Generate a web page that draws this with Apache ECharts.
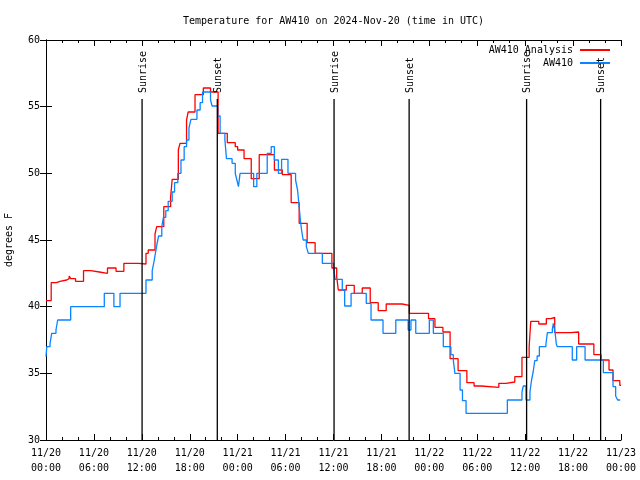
<!DOCTYPE html>
<html>
<head>
<meta charset="utf-8">
<script src="https://cdn.jsdelivr.net/npm/echarts@6/dist/echarts.min.js"></script>
<style>html,body{margin:0;padding:0;background:#fff}#c{width:640px;height:480px}</style>
</head>
<body>
<div id="c"></div>
<script>
// hours since 2024-11-20 00:00 UTC
var analysisHours = [0,0.65,1.3,1.75,2.59,2.9,3.1,3.7,4.7,5.6,6.68,7.7,8.77,9.75,11.6,12.52,12.8,13.65,13.86,14.75,15.6,15.8,16.57,16.78,17.6,17.8,18.66,19.7,20.6,21.55,22.7,23.7,24.0,24.8,25.7,26.7,28.6,29.6,30.7,31.7,32.7,33.7,35.8,36.4,36.6,37.6,38.6,39.6,40.6,41.6,42.6,44.6,45.5,47.9,48.7,49.7,50.6,51.6,52.7,53.6,54.5,56.7,57.6,58.7,59.6,60.5,60.7,61.7,62.65,63.2,63.7,65.7,66.7,68.6,69.5,70.5,71.0,71.85,72];
var analysisTemps = [40.45,41.8,41.9,42.0,42.1,42.3,42.1,41.9,42.7,42.6,42.5,42.9,42.65,43.25,43.2,44.0,44.25,45.45,46.0,47.5,48.2,49.55,51.75,52.25,54.0,54.6,55.9,56.4,56.1,53.0,52.3,52.0,51.75,51.1,49.6,51.4,50.25,49.9,47.8,46.25,44.8,44.0,42.9,42.25,41.25,41.6,41.0,41.4,40.3,39.7,40.2,40.1,39.5,39.1,38.45,38.1,36.1,35.2,34.3,34.05,33.95,34.25,34.35,34.75,36.2,37.0,38.9,38.7,39.1,39.2,38.05,38.1,37.2,36.4,36.0,35.25,34.45,34.1,34.1];

var obsHours = [0,0.1,0.5,0.71,1.25,1.46,3.09,7.3,8.5,9.27,12.52,13.3,13.5,13.7,13.9,14.1,14.5,14.7,15.0,15.3,15.8,16.1,16.5,16.9,17.3,17.6,17.9,18.15,18.9,19.3,19.6,20.6,20.8,21.5,21.8,22.4,22.6,23.3,23.7,23.9,24.1,24.3,26.0,26.4,27.7,28.2,28.6,29.1,29.5,30.3,31.25,31.5,31.7,31.85,32.0,32.2,32.6,32.85,34.6,36.0,36.2,37.1,37.4,38.2,40.1,40.7,42.2,43.8,45.35,45.7,46.3,48.0,48.5,49.75,50.7,51.0,51.2,51.85,52.15,52.6,57.77,59.6,59.77,60.1,60.6,60.8,61.0,61.2,61.5,61.78,62.6,62.78,63.4,63.53,63.75,63.9,64.03,65.9,66.45,67.5,69.79,71.0,71.33,71.58,71.9];
var obsTemps = [36.25,37.0,37.2,38.0,38.25,39.0,40.0,41.0,40.0,41.0,42.0,42.7,43.3,44.0,44.7,45.3,46.0,46.7,47.2,47.9,48.6,49.3,50.0,51.0,52.0,52.5,53.4,54.05,54.75,55.3,56.1,55.5,55.05,54.3,53.0,52.5,51.1,50.75,50.0,49.5,49.0,50.0,49.0,50.0,51.5,52.0,51.0,50.0,51.05,50.0,49.5,48.75,47.5,46.5,45.75,45.0,44.5,44.0,43.25,43.0,42.05,41.25,40.05,41.0,40.25,39.0,38.0,39.0,38.25,39.0,38.0,39.0,38.0,37.0,36.4,36.0,35.0,33.75,32.95,32.0,33.0,33.6,34.05,33.0,33.6,34.5,35.1,35.95,36.3,37.0,37.2,38.05,38.3,38.75,38.05,37.2,37.0,36.0,37.0,36.0,35.05,34.0,33.3,33.0,33.0];

var sunHours = [12.03,21.45,36.07,45.47,60.18,69.45];
var sunLabels = ['Sunrise','Sunset','Sunrise','Sunset','Sunrise','Sunset'];

var xDateLabels = ['11/20','11/20','11/20','11/20','11/21','11/21','11/21','11/21','11/22','11/22','11/22','11/22','11/23'];
var xTimeLabels = ['00:00','06:00','12:00','18:00','00:00','06:00','12:00','18:00','00:00','06:00','12:00','18:00','00:00'];

var FONT = 'DejaVu Sans Mono';
var FS = 10;

function pairs(h, v){ return h.map(function(t,i){ return [t, v[i]]; }); }

var chart = echarts.init(document.getElementById('c'), null, {renderer:'canvas'});

var tickCommon = {
  axisLine: {show:true, lineStyle:{color:'#000', width:1}},
  splitLine: {show:false}
};

chart.setOption({
  animation: false,
  backgroundColor: '#fff',
  title: {
    text: 'Temperature for AW410 on 2024-Nov-20 (time in UTC)',
    left: 178, top: 11,
    textStyle: {fontFamily: FONT, fontSize: FS, fontWeight: 'normal', color: '#000'}
  },
  legend: {
    orient: 'vertical', right: 25, top: 40, align: 'right',
    itemWidth: 30, itemHeight: 2, itemGap: 3,
    icon: 'rect',
    data: ['AW410 Analysis', 'AW410'],
    textStyle: {fontFamily: FONT, fontSize: FS, color: '#000', padding: [0, 2, 0, 0]}
  },
  grid: {left: 46, right: 19, top: 40, bottom: 40, outerBoundsMode: 'none', containLabel: false},
  xAxis: [
    Object.assign({
      type: 'value', min: 0, max: 72, interval: 6, position: 'bottom',
      axisTick: {show:true, inside:true, length:6, lineStyle:{color:'#000'}},
      minorTick: {show:true, splitNumber:3, length:3, lineStyle:{color:'#000'}},
      axisLabel: {
        fontFamily: FONT, fontSize: FS, color: '#000', lineHeight: 15, margin: 6,
        formatter: function(v){ var i = Math.round(v/6); return xDateLabels[i] + '\n' + xTimeLabels[i]; }
      }
    }, tickCommon),
    Object.assign({
      type: 'value', min: 0, max: 72, interval: 6, position: 'top',
      axisTick: {show:true, inside:true, length:6, lineStyle:{color:'#000'}},
      minorTick: {show:true, splitNumber:3, length:3, lineStyle:{color:'#000'}},
      axisLabel: {show:false}
    }, tickCommon)
  ],
  yAxis: [
    Object.assign({
      type: 'value', min: 30, max: 60, interval: 5, position: 'left',
      name: 'degrees F', nameLocation: 'middle', nameRotate: 90, nameGap: 32,
      nameTextStyle: {fontFamily: FONT, fontSize: FS, color: '#000'},
      axisTick: {show:true, inside:true, length:6, lineStyle:{color:'#000'}},
      axisLabel: {fontFamily: FONT, fontSize: FS, color: '#000', margin: 6}
    }, tickCommon),
    Object.assign({
      type: 'value', min: 30, max: 60, interval: 5, position: 'right',
      axisTick: {show:true, inside:true, length:6, lineStyle:{color:'#000'}},
      axisLabel: {show:false}
    }, tickCommon)
  ],
  series: [
    {
      name: 'AW410 Analysis', type: 'line', step: 'end', symbol: 'none',
      color: '#ff0000', lineStyle: {color:'#ff0000', width: 1.3},
      data: pairs(analysisHours, analysisTemps), z: 3
    },
    {
      name: 'AW410', type: 'line', step: 'end', symbol: 'none',
      color: '#0a84ff', lineStyle: {color:'#0a84ff', width: 1.3},
      data: pairs(obsHours, obsTemps), z: 4
    },
    {
      name: 'sun', type: 'custom', z: 5, clip: false,
      encode: {x: 0},
      data: sunHours.map(function(t,i){ return [t, i]; }),
      renderItem: function(params, api){
        var x = api.coord([api.value(0), 60])[0];
        var top = api.coord([0, 60])[1];
        var bottom = api.coord([0, 30])[1];
        var label = sunLabels[api.value(1)];
        return {
          type: 'group',
          children: [
            {type: 'line', shape: {x1: x, y1: top + 59, x2: x, y2: bottom},
             style: {stroke: '#000', lineWidth: 1.3}},
            {type: 'text', x: x + 1, y: top + 53, rotation: Math.PI/2,
             style: {text: label, fill: '#000', font: FS + 'px "DejaVu Sans Mono"',
                     align: 'left', verticalAlign: 'middle'}}
          ]
        };
      }
    }
  ]
});
</script>
</body>
</html>
